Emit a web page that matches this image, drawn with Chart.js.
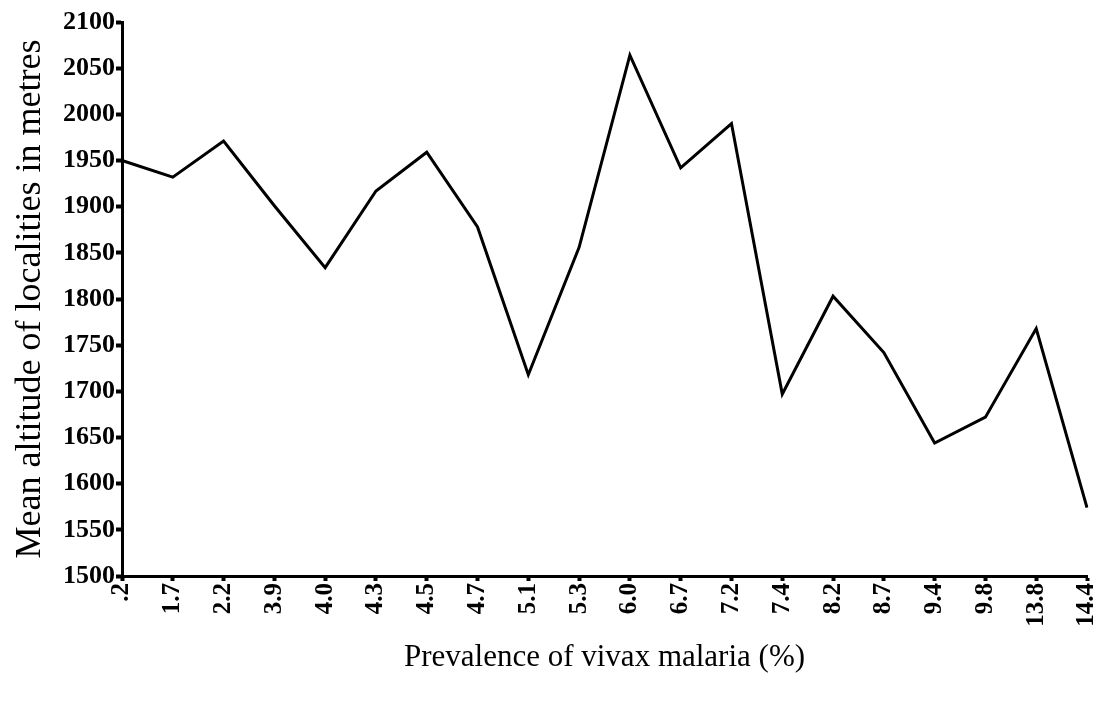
<!DOCTYPE html>
<html>
<head>
<meta charset="utf-8">
<script src="https://cdn.jsdelivr.net/npm/chart.js@4/dist/chart.umd.min.js"></script>
<style>
  html, body { margin: 0; padding: 0; background: #fff; }
  #wrap { width: 1105px; height: 702px; }
</style>
</head>
<body>
<div id="wrap"><canvas id="c" width="1105" height="702"></canvas></div>
<script>
const categories = ['.2','1.7','2.2','3.9','4.0','4.3','4.5','4.7','5.1','5.3','6.0','6.7','7.2','7.4','8.2','8.7','9.4','9.8','13.8','14.4'];
const altitudes = [1950, 1932, 1971, 1901, 1834, 1917, 1959, 1878, 1718, 1856, 2064, 1942, 1990, 1697, 1803, 1742, 1644, 1672, 1768, 1574];
const yMin = 1500, yMax = 2100, yStep = 50;
const xTitle = 'Prevalence of vivax malaria (%)';
const yTitle = 'Mean altitude of localities in metres';

const serif = '"Liberation Serif", "DejaVu Serif", serif';

new Chart(document.getElementById('c'), {
  type: 'line',
  data: {
    labels: categories,
    datasets: [{
      data: altitudes,
      borderColor: '#000',
      borderWidth: 3,
      pointRadius: 0,
      tension: 0,
      fill: false
    }]
  },
  options: {
    responsive: false,
    animation: false,
    layout: { padding: { left: 0, top: 22, right: 18, bottom: 0 } },
    plugins: { legend: { display: false }, tooltip: { enabled: false } },
    scales: {
      x: {
        type: 'category',
        offset: false,
        border: { display: true, color: '#000', width: 3 },
        grid: { display: true, drawOnChartArea: false, drawTicks: true, tickLength: 5, tickColor: '#000', tickWidth: 4 },
        ticks: { color: '#000', font: { family: serif, size: 25, weight: 'bold' }, minRotation: 90, maxRotation: 90, padding: 2, autoSkip: false },
        title: { display: true, text: xTitle, color: '#000', font: { family: serif, size: 31 }, padding: { top: 0, bottom: 26 } },
        afterFit: (s) => { s.height = 126; s.paddingLeft = 0; s.paddingRight = 0; }
      },
      y: {
        min: yMin, max: yMax,
        border: { display: true, color: '#000', width: 3 },
        grid: { display: true, drawOnChartArea: false, drawTicks: true, tickLength: 6, tickColor: '#000', tickWidth: 4 },
        ticks: { color: '#000', stepSize: yStep, font: { family: serif, size: 26, weight: 'bold' }, padding: 1,
                 callback: (v) => String(v) },
        title: { display: true, text: yTitle, color: '#000', font: { family: serif, size: 36 }, padding: { top: 9, bottom: 0 } },
        afterFit: (s) => { s.width = 122; s.paddingTop = 0; s.paddingBottom = 0; }
      }
    }
  }
});
</script>
</body>
</html>
